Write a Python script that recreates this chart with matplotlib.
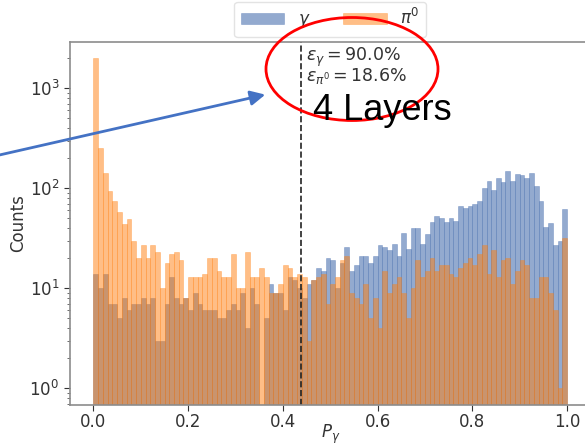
import numpy as np
import matplotlib
matplotlib.use("Agg")
import matplotlib.pyplot as plt
import matplotlib.transforms as mtransforms
from matplotlib.patches import Ellipse, FancyArrowPatch

# 100 bins on [0, 1], counts
edges = np.linspace(0, 1, 101)
centers = 0.5 * (edges[:-1] + edges[1:])

gamma_counts = [14, 10, 14, 7, 7, 5, 8, 6, 7, 7,
                8, 7, 8, 3, 3, 7, 13, 8, 7, 8,
                6, 9, 7, 6, 6, 6, 5, 5, 6, 7,
                6, 9, 4, 10, 7, 0, 5, 11, 9, 9,
                6, 13, 12, 10, 8, 11, 12, 16, 15, 20,
                19, 10, 18, 26, 15, 17, 21, 21, 18, 21,
                27, 26, 24, 28, 21, 36, 25, 40, 40, 28,
                35, 46, 53, 50, 46, 50, 47, 66, 64, 66,
                70, 74, 101, 119, 96, 126, 115, 149, 119, 139,
                136, 126, 143, 105, 75, 41, 45, 27, 30, 62]

pi0_counts = [2000, 251, 143, 94, 75, 58, 44, 49, 30, 20,
              27, 20, 27, 23, 10, 18, 22, 23, 19, 8,
              13, 13, 13, 14, 20, 20, 15, 13, 13, 22,
              10, 10, 23, 13, 13, 16, 13, 9, 9, 11,
              17, 16, 13, 14, 13, 3, 12, 13, 14, 7,
              11, 13, 19, 21, 9, 8, 7, 11, 5, 8,
              4, 15, 9, 11, 13, 9, 5, 10, 19, 13,
              15, 20, 15, 17, 17, 14, 13, 16, 18, 20,
              17, 22, 27, 14, 24, 13, 19, 20, 11, 15,
              19, 17, 8, 8, 13, 13, 9, 6, 1, 32]

cut = 0.439
eff_gamma = 90.0
eff_pi0 = 18.6

W, H, DPI = 585, 444, 100
fig = plt.figure(figsize=(W / DPI, H / DPI), dpi=DPI)
ax = fig.add_axes([69.8 / W, 1 - 405 / H, 520.9 / W, 363 / H])

ax.hist(centers, bins=edges, weights=gamma_counts, color="#4C72B0", alpha=0.6,
        edgecolor="#4C72B0", linewidth=0.4, label=r"$\gamma$")
ax.hist(centers, bins=edges, weights=pi0_counts, color="#ff7f0e", alpha=0.5,
        edgecolor="#ff7f0e", linewidth=0.4, label=r"$\pi^0$")
ax.set_yscale("log")
ax.set_xlim(-0.05, 1.05)
ax.set_ylim(0.681, 2904)

ax.axvline(cut, color="#222222", linestyle="--", linewidth=1.2)

txt_color = "#333333"
ax.text(0.449, 0.99, r"$\epsilon_\gamma = %.1f\%%$" % eff_gamma,
        transform=ax.get_xaxis_transform(), ha="left", va="top",
        fontsize=12.5, color=txt_color)
ax.text(0.449, 0.935, r"$\epsilon_{\pi^0} = %.1f\%%$" % eff_pi0,
        transform=ax.get_xaxis_transform(), ha="left", va="top",
        fontsize=12.5, color=txt_color)

ax.set_xlabel(r"$P_\gamma$", fontsize=12, color=txt_color, labelpad=-6)
ax.set_ylabel("Counts", fontsize=12, color=txt_color, labelpad=2)
ax.set_xticks([0.0, 0.2, 0.4, 0.6, 0.8, 1.0])
ax.tick_params(axis="both", which="major", labelsize=12, colors=txt_color, length=4)
ax.tick_params(axis="x", which="major", pad=2)
ax.tick_params(axis="y", which="minor", length=2, colors="#555555")
for sp in ax.spines.values():
    sp.set_color("#8c8c8c")
    sp.set_linewidth(1.2)

leg = ax.legend(loc="lower center", bbox_to_anchor=(0.5, 1.0), ncol=2,
                fontsize=12, handlelength=2.6, columnspacing=2.0,
                borderaxespad=0.3, frameon=True)
leg.get_frame().set_edgecolor("#dddddd")
for t in leg.get_texts():
    t.set_color(txt_color)

# slide annotations, in pixel coordinates measured from the top-left corner
px = mtransforms.Affine2D().scale(1 / DPI, -1 / DPI).translate(0, H / DPI) + fig.dpi_scale_trans

fig.add_artist(Ellipse((352, 69), 172, 103, fill=False, edgecolor="red",
                       linewidth=2.0, transform=px))
fig.add_artist(FancyArrowPatch((-5, 156), (268, 94), arrowstyle="-|>",
                               mutation_scale=22, color="#4472C4",
                               linewidth=2.0, transform=px))
fig.text(313, 120, "4 Layers", transform=px, fontsize=26,
         family=["Liberation Sans", "DejaVu Sans"], color="black",
         ha="left", va="baseline")

fig.savefig("out.png", dpi=DPI)
